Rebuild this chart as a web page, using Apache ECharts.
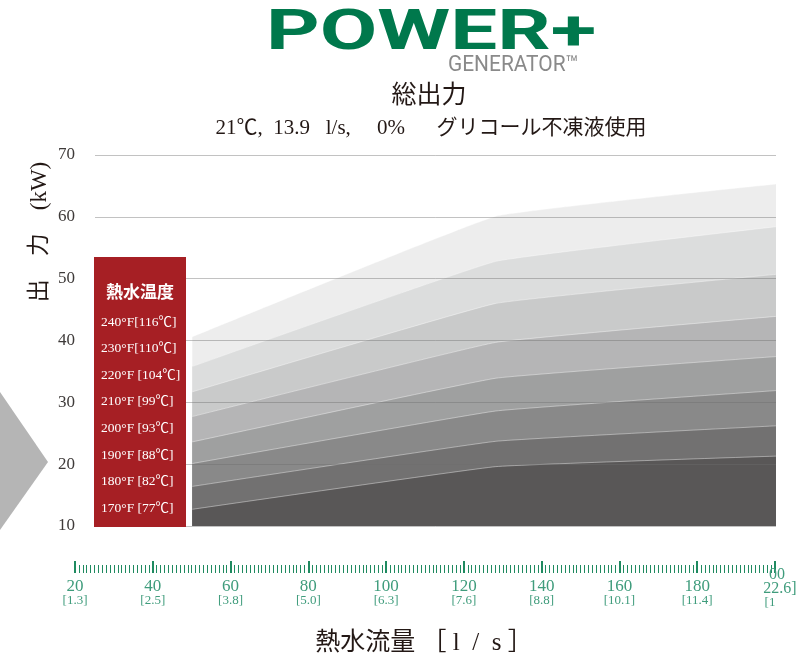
<!DOCTYPE html>
<html lang="ja">
<head>
<meta charset="UTF-8">
<title>総出力</title>
<script src="https://cdn.jsdelivr.net/npm/echarts@6/dist/echarts.min.js"></script>
<style>
  html, body { margin: 0; padding: 0; background: #fff; }
  #main { width: 806px; height: 663px; }
</style>
</head>
<body>
<div id="main"></div>
<script>
// 流量 (x) の点
var flowPts = [50, 128, 200];
// 各温度の出力 kW
var out240 = [40.6, 60.1, 65.3];
var out230 = [35.8, 52.8, 58.4];
var out220 = [31.7, 46.0, 50.7];
var out210 = [27.7, 39.7, 43.9];
var out200 = [23.6, 33.9, 37.4];
var out190 = [20.1, 28.6, 31.9];
var out180 = [16.4, 23.7, 26.2];
var out170 = [12.7, 19.6, 21.3];
var tempNames = ['240°F[116℃]', '230°F[110℃]', '220°F [104℃]', '210°F [99℃]',
                 '200°F [93℃]', '190°F [88℃]', '180°F [82℃]', '170°F [77℃]'];
var layerColors = ['#ededed', '#dcdddd', '#c9caca', '#b5b5b6',
                   '#9fa0a0', '#898989', '#727171', '#595757'];
// 下の目盛り
var rulerTicks = [20, 40, 60, 80, 100, 120, 140, 160, 180, 200];
var rulerLs = ['1.3', '2.5', '3.8', '5.0', '6.3', '7.6', '8.8', '10.1', '11.4', '12.6'];

var serif = '"Liberation Serif", "Noto Sans CJK JP", serif';
var green = '#1f8a60';
var greenText = '#3f9c7c';

var outputs = [out240, out230, out220, out210, out200, out190, out180, out170];

var series = [];
for (var i = 0; i < outputs.length; i++) {
    var pts = [];
    for (var j = 0; j < flowPts.length; j++) {
        pts.push([flowPts[j], outputs[i][j]]);
    }
    series.push({
        name: tempNames[i],
        type: 'line',
        xAxisIndex: 0,
        yAxisIndex: 0,
        data: pts,
        symbol: 'none',
        smooth: 0.08,
        color: layerColors[i],
        lineStyle: { color: 'rgba(255,255,255,0.5)', width: 0.8 },
        areaStyle: { color: layerColors[i], opacity: 1, origin: 'start' }
    });
}

var chart = echarts.init(document.getElementById('main'));

var option = {
    animation: false,
    textStyle: { fontFamily: serif },
    grid: [
        { left: 95, right: 30, top: 155, bottom: 137 },
        { left: 75, right: 31, top: 572, height: 1 }
    ],
    xAxis: [
        { gridIndex: 0, type: 'value', min: 25, max: 200, show: false },
        {
            gridIndex: 1, type: 'value', min: 20, max: 200, interval: 20,
            position: 'bottom',
            axisLine: { show: false },
            axisTick: { show: true, inside: true, length: 12, lineStyle: { color: green, width: 2 } },
            minorTick: { show: true, splitNumber: 20, length: 8, lineStyle: { color: green, width: 1 } },
            splitLine: { show: false },
            axisLabel: {
                margin: 6,
                formatter: function (v) {
                    var k = rulerTicks.indexOf(v);
                    if (k < 0 || v === 200) return '';
                    return '{a|' + v + '}\n{b|[' + rulerLs[k] + ']}';
                },
                rich: {
                    a: { fontFamily: serif, fontSize: 17, lineHeight: 15, color: greenText },
                    b: { fontFamily: serif, fontSize: 13, lineHeight: 13, color: greenText }
                }
            }
        },
        {
            // 右端のラベル（元図どおり崩れた表示）
            gridIndex: 1, type: 'value', min: 20, max: 200,
            position: 'bottom',
            axisLine: { show: false },
            axisTick: { show: false },
            splitLine: { show: false },
            axisLabel: {
                customValues: [200],
                margin: -5,
                formatter: function () {
                    return '{a|00}\n{c|22.6]}\n{b|[1}';
                },
                rich: {
                    a: { fontFamily: serif, fontSize: 16, lineHeight: 14, color: greenText, padding: [0, 0, 0, 4] },
                    c: { fontFamily: serif, fontSize: 16, lineHeight: 14, color: greenText, padding: [0, 0, 0, 10] },
                    b: { fontFamily: serif, fontSize: 13, lineHeight: 13, color: greenText, padding: [0, 10, 0, 0] }
                }
            }
        }
    ],
    yAxis: [
        {
            gridIndex: 0, type: 'value', min: 10, max: 70, interval: 10, z: 5,
            axisLine: { show: false },
            axisTick: { show: false },
            axisLabel: { margin: 20, fontFamily: serif, fontSize: 17, color: '#3e3a39' },
            splitLine: { lineStyle: { color: 'rgba(110,110,110,0.42)', width: 1 } }
        },
        { gridIndex: 1, type: 'value', min: 0, max: 1, show: false }
    ],
    legend: {
        orient: 'vertical',
        left: 96,
        top: 315,
        padding: 0,
        z: 101,
        icon: 'rect',
        itemWidth: 0,
        itemHeight: 14,
        itemGap: 12.6,
        selectedMode: false,
        itemStyle: { opacity: 0 },
        lineStyle: { opacity: 0 },
        data: tempNames,
        textStyle: { color: '#ffffff', fontFamily: serif, fontSize: 13.5 }
    },
    graphic: [
        // ロゴ
        {
            type: 'text', x: 266, y: 35, scaleX: 1.49, z: 100,
            style: {
                text: 'POWER+', fill: '#00784c',
                font: 'bold 56px Roboto, sans-serif',
                textVerticalAlign: 'middle'
            }
        },
        {
            type: 'text', x: 448, y: 65, scaleX: 0.95, z: 100,
            style: {
                text: 'GENERATOR™', fill: '#8a8a8a',
                font: '22px Roboto, sans-serif',
                textVerticalAlign: 'middle'
            }
        },
        // タイトル
        {
            type: 'text', x: 429, y: 93, z: 100,
            style: {
                text: '総出力', fill: '#231815',
                font: '25px "Noto Sans CJK JP", sans-serif',
                textAlign: 'center', textVerticalAlign: 'middle'
            }
        },
        {
            type: 'text', x: 431, y: 128, z: 100,
            style: {
                text: '21℃,  13.9   l/s,     0%      グリコール不凍液使用', fill: '#231815',
                font: '21px "Liberation Serif", "Noto Sans CJK JP", serif',
                textAlign: 'center', textVerticalAlign: 'middle'
            }
        },
        // 軸名
        {
            type: 'text', x: 40, y: 232, rotation: Math.PI / 2, z: 100,
            style: {
                text: '出　力　(kW)', fill: '#231815',
                font: '23px "Liberation Serif", "Noto Sans CJK JP", serif',
                textAlign: 'center', textVerticalAlign: 'middle'
            }
        },
        {
            type: 'text', x: 424, y: 643, z: 100,
            style: {
                text: '熱水流量 ［ l  /  s ］', fill: '#231815',
                font: '25px "Liberation Serif", "Noto Sans CJK JP", serif',
                textAlign: 'center', textVerticalAlign: 'middle'
            }
        },
        // 左の三角
        {
            type: 'polygon', z: 100,
            shape: { points: [[0, 392], [48, 462], [0, 530]] },
            style: { fill: '#b5b5b5' }
        },
        // 凡例の赤い箱
        {
            type: 'rect', z: 100,
            shape: { x: 94, y: 257, width: 92, height: 270 },
            style: { fill: '#a61f24' }
        },
        {
            type: 'text', x: 140, y: 292, z: 100,
            style: {
                text: '熱水温度', fill: '#ffffff',
                font: 'bold 17px "Noto Sans CJK JP", sans-serif',
                textAlign: 'center', textVerticalAlign: 'middle'
            }
        }
    ],
    series: series
};

chart.setOption(option);
</script>
</body>
</html>
